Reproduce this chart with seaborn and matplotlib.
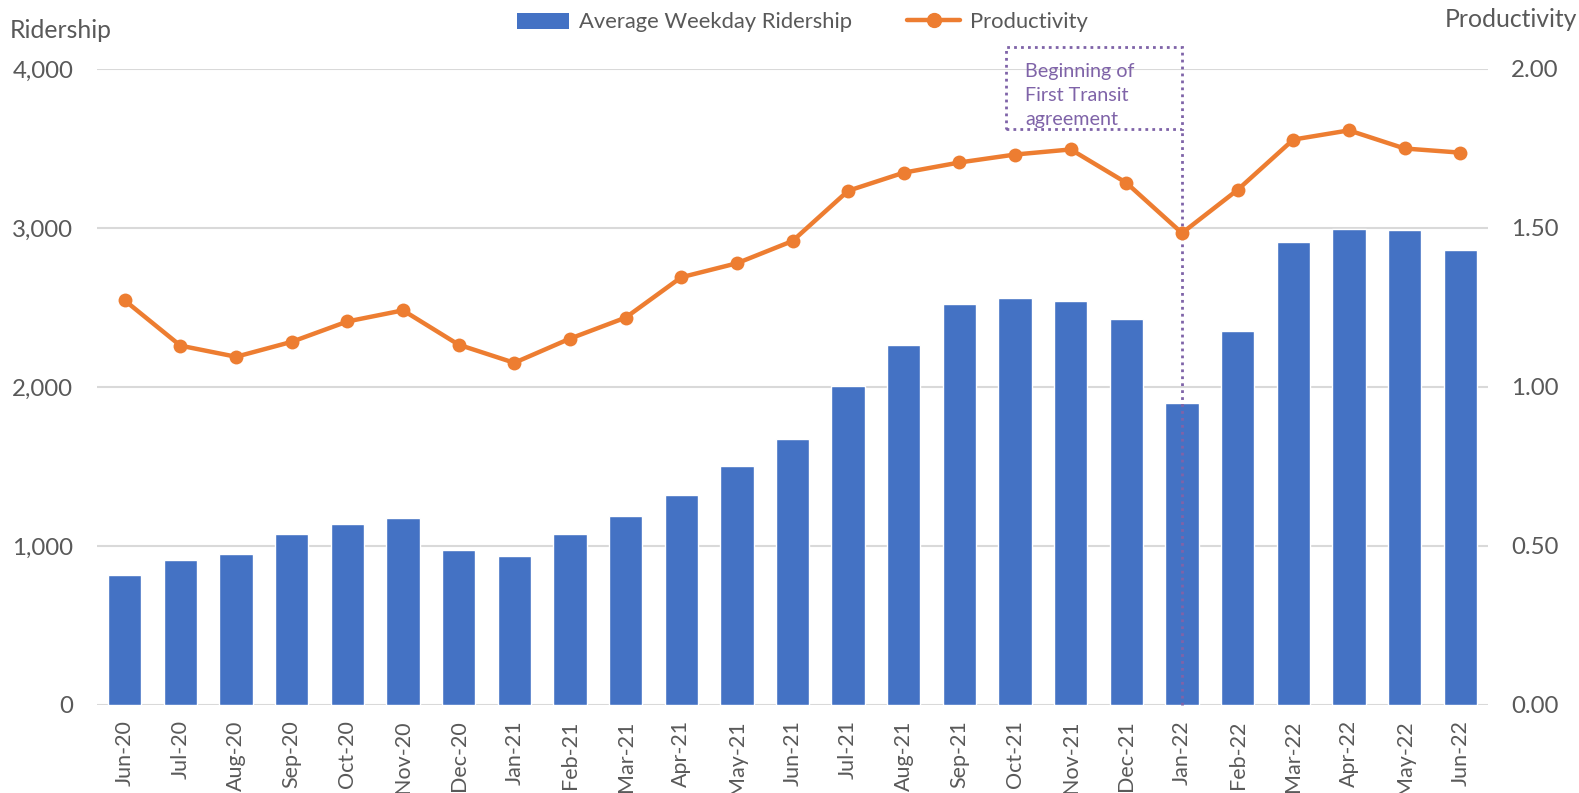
import numpy as np
import pandas as pd
import matplotlib
matplotlib.use("Agg")
import matplotlib.pyplot as plt
from matplotlib.patches import Rectangle
from matplotlib.lines import Line2D
from matplotlib.patches import Patch
import seaborn as sns

months = ["Jun-20", "Jul-20", "Aug-20", "Sep-20", "Oct-20", "Nov-20", "Dec-20",
          "Jan-21", "Feb-21", "Mar-21", "Apr-21", "May-21", "Jun-21", "Jul-21",
          "Aug-21", "Sep-21", "Oct-21", "Nov-21", "Dec-21", "Jan-22", "Feb-22",
          "Mar-22", "Apr-22", "May-22", "Jun-22"]
ridership = [818, 911, 949, 1076, 1139, 1177, 975, 937, 1076, 1190, 1323, 1500,
             1671, 2006, 2266, 2525, 2557, 2538, 2430, 1899, 2354, 2911, 2994,
             2987, 2861]
productivity = [1.272, 1.130, 1.095, 1.142, 1.206, 1.241, 1.133, 1.076, 1.152,
                1.218, 1.345, 1.389, 1.459, 1.617, 1.674, 1.706, 1.731, 1.747,
                1.642, 1.484, 1.620, 1.778, 1.807, 1.750, 1.737]
note_month = "Jan-22"
note_text = "Beginning of\nFirst Transit\nagreement"

BLUE = "#4472C4"
ORANGE = "#ED7D31"
PURPLE = "#7F63A8"
GREY_TXT = "#595959"
GRID = "#D9D9D9"

sns.set_style("white")
plt.rcParams["font.family"] = ["Lato", "DejaVu Sans"]

df = pd.DataFrame({"month": months, "ridership": ridership, "productivity": productivity})

fig = plt.figure(figsize=(15.79, 7.93), dpi=100)
ax = fig.add_axes([0.0614, 0.111, 0.881, 0.802])

sns.barplot(data=df, x="month", y="ridership", color=BLUE, width=0.6,
            saturation=1, ax=ax, zorder=2)
ax.set_ylim(0, 4000)
ax.set_yticks([0, 1000, 2000, 3000, 4000])
ax.set_yticklabels([f"{v:,}" for v in [0, 1000, 2000, 3000, 4000]])
ax.yaxis.grid(True, color=GRID, linewidth=1.5, zorder=0)
ax.set_axisbelow(True)
for s in ax.spines.values():
    s.set_visible(False)
ax.set_xlabel("")
ax.set_ylabel("")
ax.tick_params(axis="x", labelrotation=90, labelsize=15.5, colors=GREY_TXT, length=0, pad=11)
ax.tick_params(axis="y", labelsize=17.3, colors=GREY_TXT, length=0, pad=17)

ax2 = ax.twinx()
sns.lineplot(x=np.arange(len(months)), y=df["productivity"], color=ORANGE,
             linewidth=3.2, marker="o", markersize=10, markeredgewidth=0, ax=ax2)
ax2.set_ylim(0, 2.0)
ax2.set_yticks([0, 0.5, 1.0, 1.5, 2.0])
ax2.set_yticklabels([f"{v:.2f}" for v in [0, 0.5, 1.0, 1.5, 2.0]])
for s in ax2.spines.values():
    s.set_visible(False)
ax2.set_ylabel("")
ax2.tick_params(axis="y", labelsize=17.3, colors=GREY_TXT, length=0, pad=16.5)
ax.set_xlim(-0.5, len(months) - 0.5)
ax2.set_xlim(-0.5, len(months) - 0.5)

# annotation: dotted box and vertical line at the start of the agreement
xi = months.index(note_month)
ax.add_patch(Rectangle((xi - 3.16, 3623), 3.16, 515, fill=False, edgecolor=PURPLE,
                       linestyle=(0, (1, 1.5)), linewidth=2, clip_on=False, zorder=5))
ax.plot([xi, xi], [0, 3623], color=PURPLE, linestyle=(0, (1, 1.5)), linewidth=2,
        zorder=5, clip_on=False)
ax.text(xi - 2.82, 4040, note_text, color=PURPLE, fontsize=14.2, va="top", ha="left",
        linespacing=1.5, zorder=6)

fig.text(0.006, 0.962, "Ridership", fontsize=17.8, color=GREY_TXT, va="center", ha="left")
fig.text(0.999, 0.975, "Productivity", fontsize=17.8, color=GREY_TXT, va="center", ha="right")

handles = [Patch(facecolor=BLUE, edgecolor="none"),
           Line2D([0], [0], color=ORANGE, linewidth=3.2, marker="o", markersize=10)]
fig.legend(handles, ["Average Weekday Ridership", "Productivity"], loc="center",
           bbox_to_anchor=(0.508, 0.972), ncol=2, frameon=False, fontsize=15.8,
           labelcolor=GREY_TXT, handlelength=2.4, handleheight=0.75,
           columnspacing=2.5, handletextpad=0.45)

fig.savefig("out.png", dpi=100)
